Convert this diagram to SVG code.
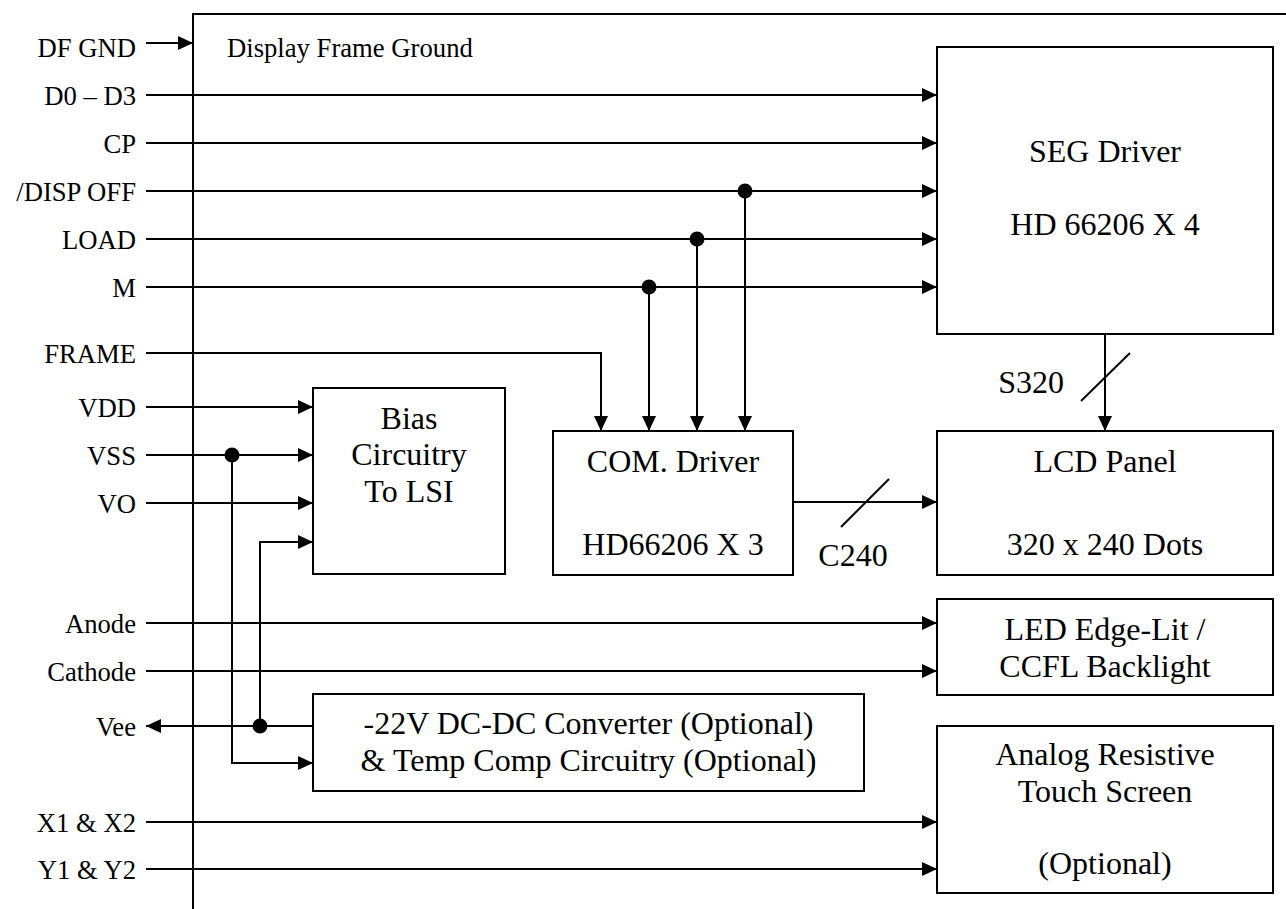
<svg xmlns="http://www.w3.org/2000/svg" width="1286" height="909" viewBox="0 0 1286 909" font-family="'Liberation Serif', 'Times New Roman', Tinos, 'DejaVu Serif', serif">
<style>
text{font-family:'Liberation Serif','Times New Roman',Tinos,'DejaVu Serif',serif;fill:#000}
.lbl{font-size:26.67px;text-anchor:end}
.t{font-size:32px;text-anchor:middle}
.box{fill:#fff;stroke:#000;stroke-width:2}
.w{fill:none;stroke:#000;stroke-width:2}
.a{marker-end:url(#arr)}
.dot{fill:#000}
</style>
<defs>
<marker id="arr" markerUnits="userSpaceOnUse" markerWidth="16" markerHeight="16" refX="15" refY="7" orient="auto">
<path d="M0,0 L15,7 L0,14 z" fill="#000"/>
</marker>
</defs>
<rect width="1286" height="909" fill="#fff"/>
<g id="frame">
<path class="w" d="M193,909 V14 H1286"/>
<text x="227" y="57" font-size="26.67">Display Frame Ground</text>
</g>
<g id="connectors">
<line class="w a" x1="146" y1="43" x2="193" y2="43"/>
<line class="w a" x1="146" y1="95" x2="937" y2="95"/>
<line class="w a" x1="146" y1="143" x2="937" y2="143"/>
<line class="w a" x1="146" y1="191" x2="937" y2="191"/>
<line class="w a" x1="146" y1="239" x2="937" y2="239"/>
<line class="w a" x1="146" y1="287" x2="937" y2="287"/>
<path class="w a" d="M146,353 H601 V431"/>
<path class="w a" d="M649,287 V431"/>
<path class="w a" d="M697,239 V431"/>
<path class="w a" d="M745,191 V431"/>
<circle class="dot" cx="649" cy="287" r="7.5"/>
<circle class="dot" cx="697" cy="239" r="7.5"/>
<circle class="dot" cx="745" cy="191" r="7.5"/>
<line class="w a" x1="146" y1="407" x2="313" y2="407"/>
<line class="w a" x1="146" y1="455" x2="313" y2="455"/>
<line class="w a" x1="146" y1="503" x2="313" y2="503"/>
<path class="w a" d="M232,455 V763 H313"/>
<circle class="dot" cx="232" cy="455" r="7.5"/>
<line class="w a" x1="313" y1="726" x2="146" y2="726"/>
<path class="w a" d="M260,726 V542 H313"/>
<circle class="dot" cx="260" cy="726" r="7.5"/>
<line class="w a" x1="146" y1="623" x2="937" y2="623"/>
<line class="w a" x1="146" y1="671" x2="937" y2="671"/>
<line class="w a" x1="146" y1="822" x2="937" y2="822"/>
<line class="w a" x1="146" y1="869" x2="937" y2="869"/>
<line class="w a" x1="793" y1="502" x2="937" y2="502"/>
<line class="w" x1="841" y1="527" x2="889" y2="479"/>
<text class="t" x="853" y="566">C240</text>
<line class="w a" x1="1105" y1="334" x2="1105" y2="431"/>
<line class="w" x1="1081" y1="401" x2="1130" y2="353"/>
<text x="1064" y="393" font-size="32" text-anchor="end">S320</text>
</g>
<g id="signal-labels">
<text class="lbl" x="136" y="57">DF GND</text>
<text class="lbl" x="136" y="105">D0 – D3</text>
<text class="lbl" x="136" y="153">CP</text>
<text class="lbl" x="136" y="201">/DISP OFF</text>
<text class="lbl" x="136" y="249">LOAD</text>
<text class="lbl" x="136" y="297">M</text>
<text class="lbl" x="136" y="363">FRAME</text>
<text class="lbl" x="136" y="417">VDD</text>
<text class="lbl" x="136" y="465">VSS</text>
<text class="lbl" x="136" y="513">VO</text>
<text class="lbl" x="136" y="633">Anode</text>
<text class="lbl" x="136" y="681">Cathode</text>
<text class="lbl" x="136" y="736">Vee</text>
<text class="lbl" x="136" y="832">X1 &amp; X2</text>
<text class="lbl" x="136" y="879">Y1 &amp; Y2</text>
</g>
<g id="seg-driver">
<rect class="box" x="937" y="47" width="336" height="287"/>
<text class="t" x="1105" y="162">SEG Driver</text>
<text class="t" x="1105" y="235">HD 66206 X 4</text>
</g>
<g id="com-driver">
<rect class="box" x="553" y="431" width="240" height="144"/>
<text class="t" x="673" y="472">COM. Driver</text>
<text class="t" x="673" y="555">HD66206 X 3</text>
</g>
<g id="lcd-panel">
<rect class="box" x="937" y="431" width="336" height="144"/>
<text class="t" x="1105" y="472">LCD Panel</text>
<text class="t" x="1105" y="555">320 x 240 Dots</text>
</g>
<g id="bias">
<rect class="box" x="313" y="388" width="192" height="186"/>
<text class="t" x="409" y="429">Bias</text>
<text class="t" x="409" y="465">Circuitry</text>
<text class="t" x="409" y="502">To LSI</text>
</g>
<g id="backlight">
<rect class="box" x="937" y="599" width="336" height="96"/>
<text class="t" x="1105" y="640">LED Edge-Lit /</text>
<text class="t" x="1105" y="677">CCFL Backlight</text>
</g>
<g id="dcdc">
<rect class="box" x="313" y="694" width="551" height="97"/>
<text class="t" x="588.5" y="734">-22V DC-DC Converter (Optional)</text>
<text class="t" x="588.5" y="771">&amp; Temp Comp Circuitry (Optional)</text>
</g>
<g id="touch">
<rect class="box" x="937" y="726" width="336" height="167"/>
<text class="t" x="1105" y="765">Analog Resistive</text>
<text class="t" x="1105" y="802">Touch Screen</text>
<text class="t" x="1105" y="874">(Optional)</text>
</g>
</svg>
